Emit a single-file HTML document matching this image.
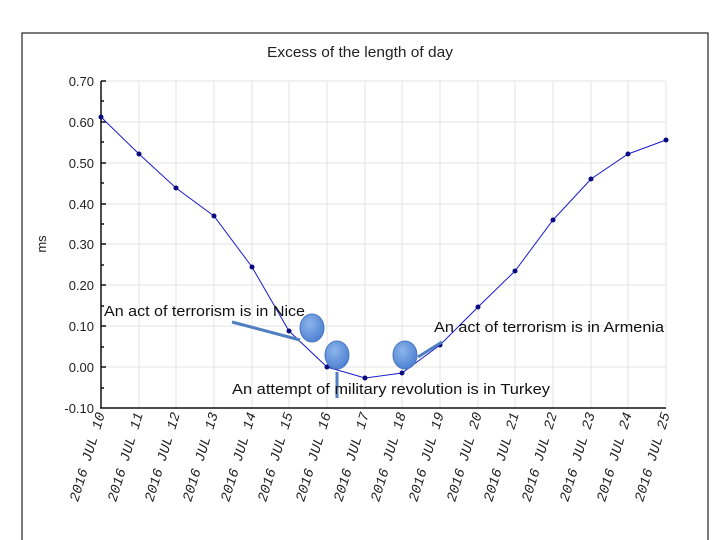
<!DOCTYPE html>
<html><head><style>
body{margin:0;background:#fff;}
svg{display:block;}
</style></head><body>
<svg width="720" height="540" xmlns="http://www.w3.org/2000/svg" font-family="Liberation Sans, sans-serif">
<defs>
<radialGradient id="g" cx="40%" cy="35%" r="70%"><stop offset="0" stop-color="#8db4ec"/><stop offset="1" stop-color="#4a7fd0"/></radialGradient>
</defs>
<rect x="22" y="33" width="686" height="520" fill="#fff" stroke="#222" stroke-width="1.2"/>
<text x="360" y="57" font-size="15" text-anchor="middle" fill="#222" textLength="186" lengthAdjust="spacingAndGlyphs">Excess of the length of day</text>
<g stroke="#e3e3e3" stroke-width="1">
<line x1="101" y1="81" x2="666" y2="81"/><line x1="101" y1="122" x2="666" y2="122"/><line x1="101" y1="163" x2="666" y2="163"/><line x1="101" y1="204" x2="666" y2="204"/><line x1="101" y1="244" x2="666" y2="244"/><line x1="101" y1="285" x2="666" y2="285"/><line x1="101" y1="326" x2="666" y2="326"/><line x1="101" y1="367" x2="666" y2="367"/>
<line x1="139" y1="81" x2="139" y2="407"/><line x1="176" y1="81" x2="176" y2="407"/><line x1="214" y1="81" x2="214" y2="407"/><line x1="252" y1="81" x2="252" y2="407"/><line x1="289" y1="81" x2="289" y2="407"/><line x1="327" y1="81" x2="327" y2="407"/><line x1="365" y1="81" x2="365" y2="407"/><line x1="402" y1="81" x2="402" y2="407"/><line x1="440" y1="81" x2="440" y2="407"/><line x1="478" y1="81" x2="478" y2="407"/><line x1="515" y1="81" x2="515" y2="407"/><line x1="553" y1="81" x2="553" y2="407"/><line x1="591" y1="81" x2="591" y2="407"/><line x1="628" y1="81" x2="628" y2="407"/><line x1="666" y1="81" x2="666" y2="407"/>
</g>
<g stroke="#111" stroke-width="1.5">
<line x1="101" y1="81" x2="101" y2="408"/><line x1="100" y1="408" x2="666" y2="408"/>
<line x1="101" y1="81" x2="106" y2="81"/><line x1="101" y1="122" x2="106" y2="122"/><line x1="101" y1="163" x2="106" y2="163"/><line x1="101" y1="204" x2="106" y2="204"/><line x1="101" y1="244" x2="106" y2="244"/><line x1="101" y1="285" x2="106" y2="285"/><line x1="101" y1="326" x2="106" y2="326"/><line x1="101" y1="367" x2="106" y2="367"/>
<line x1="101" y1="101" x2="104" y2="101"/><line x1="101" y1="142" x2="104" y2="142"/><line x1="101" y1="183" x2="104" y2="183"/><line x1="101" y1="224" x2="104" y2="224"/><line x1="101" y1="265" x2="104" y2="265"/><line x1="101" y1="306" x2="104" y2="306"/><line x1="101" y1="347" x2="104" y2="347"/><line x1="101" y1="388" x2="104" y2="388"/>
</g>
<g font-size="13" fill="#222" text-anchor="end">
<text x="94" y="86">0.70</text><text x="94" y="127">0.60</text><text x="94" y="168">0.50</text><text x="94" y="209">0.40</text><text x="94" y="249">0.30</text><text x="94" y="290">0.20</text><text x="94" y="331">0.10</text><text x="94" y="372">0.00</text><text x="94" y="413">-0.10</text>
</g>
<text x="46" y="244" font-size="13" fill="#222" text-anchor="middle" transform="rotate(-90 46 244)">ms</text>
<polyline fill="none" stroke="#1a1ad0" stroke-width="1" points="101,117 139,154 176,188 214,216 252,267 289,331 327,367 365,378 402,373 440,345 478,307 515,271 553,220 591,179 628,154 666,140"/>
<g fill="#0a0a80">
<circle cx="101" cy="117" r="2.5"/><circle cx="139" cy="154" r="2.5"/><circle cx="176" cy="188" r="2.5"/><circle cx="214" cy="216" r="2.5"/><circle cx="252" cy="267" r="2.5"/><circle cx="289" cy="331" r="2.5"/><circle cx="327" cy="367" r="2.5"/><circle cx="365" cy="378" r="2.5"/><circle cx="402" cy="373" r="2.5"/><circle cx="440" cy="345" r="2.5"/><circle cx="478" cy="307" r="2.5"/><circle cx="515" cy="271" r="2.5"/><circle cx="553" cy="220" r="2.5"/><circle cx="591" cy="179" r="2.5"/><circle cx="628" cy="154" r="2.5"/><circle cx="666" cy="140" r="2.5"/>
</g>
<g font-family="Liberation Mono, monospace" font-size="14" fill="#222" font-style="italic" text-anchor="end">
<text transform="translate(105,414) rotate(-73)">2016 JUL 10</text>
<text transform="translate(143,414) rotate(-73)">2016 JUL 11</text>
<text transform="translate(180,414) rotate(-73)">2016 JUL 12</text>
<text transform="translate(218,414) rotate(-73)">2016 JUL 13</text>
<text transform="translate(256,414) rotate(-73)">2016 JUL 14</text>
<text transform="translate(293,414) rotate(-73)">2016 JUL 15</text>
<text transform="translate(331,414) rotate(-73)">2016 JUL 16</text>
<text transform="translate(369,414) rotate(-73)">2016 JUL 17</text>
<text transform="translate(406,414) rotate(-73)">2016 JUL 18</text>
<text transform="translate(444,414) rotate(-73)">2016 JUL 19</text>
<text transform="translate(482,414) rotate(-73)">2016 JUL 20</text>
<text transform="translate(519,414) rotate(-73)">2016 JUL 21</text>
<text transform="translate(557,414) rotate(-73)">2016 JUL 22</text>
<text transform="translate(595,414) rotate(-73)">2016 JUL 23</text>
<text transform="translate(632,414) rotate(-73)">2016 JUL 24</text>
<text transform="translate(670,414) rotate(-73)">2016 JUL 25</text>
</g>
<g stroke="#4f7fc0" stroke-width="3" fill="none">
<line x1="232" y1="322" x2="300" y2="340"/><line x1="337" y1="398" x2="337" y2="372"/><line x1="418" y1="357" x2="442" y2="342"/>
</g>
<g fill="url(#g)" stroke="#4a78c0" stroke-width="1">
<ellipse cx="312" cy="328" rx="12" ry="14"/><ellipse cx="337" cy="355" rx="12" ry="14"/><ellipse cx="405" cy="355" rx="12" ry="14"/>
</g>
<g font-size="15" fill="#111">
<text x="104" y="316" textLength="201" lengthAdjust="spacingAndGlyphs">An act of terrorism is in Nice</text>
<text x="434" y="332" textLength="230" lengthAdjust="spacingAndGlyphs">An act of terrorism is in Armenia</text>
<text x="232" y="394" textLength="318" lengthAdjust="spacingAndGlyphs">An attempt of military revolution is in Turkey</text>
</g>
</svg>
</body></html>
